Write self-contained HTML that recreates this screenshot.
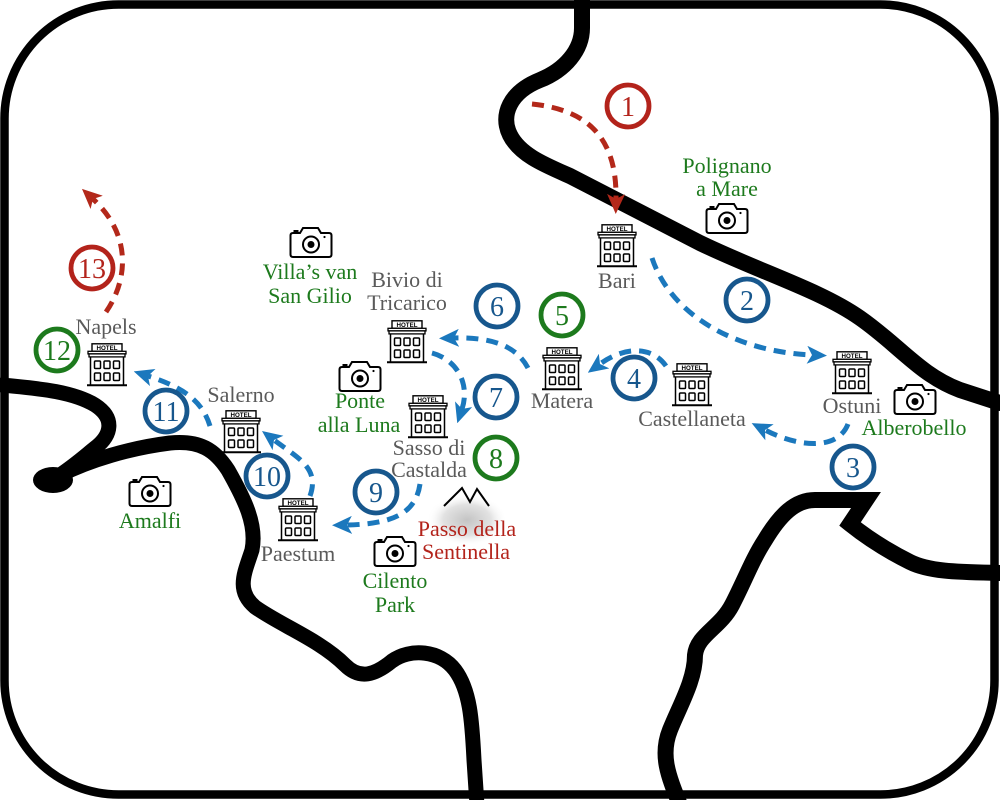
<!DOCTYPE html>
<html>
<head>
<meta charset="utf-8">
<style>
html,body{margin:0;padding:0;background:#fff;}
svg{display:block;}
.lbl{font-family:"Liberation Serif",serif;font-size:22px;text-anchor:middle;}
.g{fill:#5a5a5a;}
.gr{fill:#1d7a1d;}
.rd{fill:#b3231b;}
.num{font-family:"Liberation Serif",serif;font-size:28px;text-anchor:middle;}
.ht{font-family:"Liberation Sans",sans-serif;font-size:6.2px;font-weight:bold;text-anchor:middle;fill:#000;}
</style>
</head>
<body>
<svg width="1000" height="800" viewBox="0 0 1000 800" xmlns="http://www.w3.org/2000/svg">
<defs>
  <symbol id="hotel" viewBox="0 0 40 44" width="40" height="44" overflow="visible">
    <rect x="5" y="0.8" width="30" height="7.5" fill="#fff" stroke="#000" stroke-width="1.4"/>
    <rect x="1" y="8.3" width="38" height="2.6" fill="#fff" stroke="#000" stroke-width="1.3"/>
    <rect x="2" y="10.9" width="36" height="3" fill="#fff" stroke="#000" stroke-width="1.3"/>
    <path d="M3.5 13.9 V42 M36.5 13.9 V42" stroke="#000" stroke-width="1.5" fill="none"/>
    <path d="M0 42.3 H40" stroke="#000" stroke-width="2" fill="none"/>
    <g fill="none" stroke="#000" stroke-width="1.5">
      <rect x="7.5" y="18" width="6" height="7.5" rx="1"/>
      <rect x="17" y="18" width="6" height="7.5" rx="1"/>
      <rect x="26.5" y="18" width="6" height="7.5" rx="1"/>
      <rect x="7.5" y="30" width="6" height="7.5" rx="1"/>
      <rect x="17" y="30" width="6" height="7.5" rx="1"/>
      <rect x="26.5" y="30" width="6" height="7.5" rx="1"/>
    </g>
  </symbol>
  <symbol id="cam" viewBox="0 0 44 32" width="44" height="32" overflow="visible">
    <path d="M4,7 H11 L14,2 H29 L32,7 H40 Q42.5,7 42.5,9.5 V28.5 Q42.5,31 40,31 H4 Q1.5,31 1.5,28.5 V9.5 Q1.5,7 4,7 Z" fill="#fff" stroke="#000" stroke-width="2"/>
    <rect x="4.5" y="4" width="5" height="3" fill="#000"/>
    <circle cx="22" cy="18.5" r="8" fill="none" stroke="#000" stroke-width="2"/>
    <circle cx="22" cy="18.5" r="3.5" fill="#000"/>
    <circle cx="35.5" cy="11" r="1.1" fill="#000"/>
  </symbol>
  <marker id="ab" viewBox="0 0 20 18" refX="5" refY="9" markerWidth="20" markerHeight="18" markerUnits="userSpaceOnUse" orient="auto">
    <path d="M0,0 L20,9 L0,18 L5,9 Z" fill="#1b78bd"/>
  </marker>
  <marker id="ar" viewBox="0 0 20 18" refX="5" refY="9" markerWidth="20" markerHeight="18" markerUnits="userSpaceOnUse" orient="auto">
    <path d="M0,0 L20,9 L0,18 L5,9 Z" fill="#b3281a"/>
  </marker>
  <radialGradient id="sh" cx="0.5" cy="0.5" r="0.5">
    <stop offset="0" stop-color="#c4c4c4"/>
    <stop offset="0.6" stop-color="#e2e2e2"/>
    <stop offset="1" stop-color="#ffffff" stop-opacity="0"/>
  </radialGradient>
</defs>

<rect x="0" y="0" width="1000" height="800" fill="#fff"/>

<!-- coastlines -->
<g fill="none" stroke="#000" stroke-linecap="round" stroke-linejoin="round">
  <path stroke-width="16" d="M582,-5 L582,28 C582,50 565,70 540,80 C510,92 500,115 510,135 C520,155 545,165 570,176 L700,243 C760,272 820,290 860,318 C900,346 920,375 960,390 L1000,403"/>
  <path stroke-width="15" d="M2,385 C30,388 70,390 95,405 C115,418 112,435 95,448 C85,456 75,465 60,475"/>
  <path stroke-width="15" d="M60,475 C90,460 130,448 170,443 C200,440 215,450 228,470 C245,500 257,525 252,550 C245,572 235,590 255,607 C280,625 320,640 345,665 C360,680 375,675 392,661 C410,648 440,650 455,670 C470,690 472,720 474,760 L477,805"/>
  <path stroke-width="16" stroke-linejoin="miter" stroke-miterlimit="6" d="M680,805 C668,775 660,755 670,730 C680,705 695,680 695,655 C697,635 720,628 732,605 C745,580 752,560 765,540 C780,515 795,500 815,500 L866,500 L850,524 C870,540 890,552 910,562 C930,572 960,572 1000,573"/>
</g>
<ellipse cx="53" cy="480" rx="20" ry="13" fill="#000"/>

<!-- frame -->
<rect x="4.5" y="4.5" width="990" height="790" rx="114" ry="114" fill="none" stroke="#000" stroke-width="8.5"/>

<!-- mountain shadow -->
<ellipse cx="467" cy="520" rx="40" ry="26" fill="url(#sh)"/>

<!-- arrows -->
<g fill="none" stroke-width="5" stroke-dasharray="12 8">
  <path stroke="#b3281a" marker-end="url(#ar)" d="M532,104 C590,110 617,140 616,199"/>
  <path stroke="#b3281a" marker-end="url(#ar)" d="M106,312 C128,280 132,235 93,199"/>
  <path stroke="#1b78bd" marker-end="url(#ab)" d="M652,258 C672,318 740,352 812,355"/>
  <path stroke="#1b78bd" marker-end="url(#ab)" d="M848,424 C838,450 800,448 765,430"/>
  <path stroke="#1b78bd" marker-end="url(#ab)" d="M666,366 C652,346 625,346 600,364"/>
  <path stroke="#1b78bd" marker-end="url(#ab)" d="M528,368 C516,345 490,337 454,338"/>
  <path stroke="#1b78bd" marker-end="url(#ab)" d="M432,353 C458,360 470,385 462,409"/>
  <path stroke="#1b78bd" marker-end="url(#ab)" d="M420,484 C416,512 395,524 347,525"/>
  <path stroke="#1b78bd" marker-end="url(#ab)" d="M310,496 C320,468 298,458 274,440"/>
  <path stroke="#1b78bd" marker-end="url(#ab)" d="M210,426 C202,400 182,387 148,376"/>
</g>

<!-- hotels -->
<use href="#hotel" x="597" y="224"/><text class="ht" x="617" y="230.8">HOTEL</text>
<use href="#hotel" x="832" y="351"/><text class="ht" x="852" y="357.8">HOTEL</text>
<use href="#hotel" x="672" y="363"/><text class="ht" x="692" y="369.8">HOTEL</text>
<use href="#hotel" x="542" y="347"/><text class="ht" x="562" y="353.8">HOTEL</text>
<use href="#hotel" x="387" y="320"/><text class="ht" x="407" y="326.8">HOTEL</text>
<use href="#hotel" x="408" y="395"/><text class="ht" x="428" y="401.8">HOTEL</text>
<use href="#hotel" x="278" y="498"/><text class="ht" x="298" y="504.8">HOTEL</text>
<use href="#hotel" x="221" y="410"/><text class="ht" x="241" y="416.8">HOTEL</text>
<use href="#hotel" x="87" y="343"/><text class="ht" x="107" y="349.8">HOTEL</text>

<!-- cameras -->
<use href="#cam" x="705" y="202"/>
<use href="#cam" x="289" y="226"/>
<use href="#cam" x="338" y="360"/>
<use href="#cam" x="893" y="383"/>
<use href="#cam" x="128" y="475"/>
<use href="#cam" x="373" y="535"/>

<!-- mountain -->
<path d="M444,506 L462,488 L470,502 L477,489 L489,506" fill="none" stroke="#000" stroke-width="2"/>

<!-- labels -->
<text class="lbl gr" x="727" y="173">Polignano</text>
<text class="lbl gr" x="727" y="196">a Mare</text>
<text class="lbl g" x="617" y="288">Bari</text>
<text class="lbl g" x="852" y="413">Ostuni</text>
<text class="lbl gr" x="914" y="435">Alberobello</text>
<text class="lbl g" x="692" y="426">Castellaneta</text>
<text class="lbl g" x="562" y="408">Matera</text>
<text class="lbl g" x="407" y="287">Bivio di</text>
<text class="lbl g" x="407" y="310">Tricarico</text>
<text class="lbl gr" x="310" y="279">Villa’s van</text>
<text class="lbl gr" x="310" y="303">San Gilio</text>
<text class="lbl gr" x="360" y="408">Ponte</text>
<text class="lbl gr" x="359" y="432">alla Luna</text>
<text class="lbl g" x="429" y="455">Sasso di</text>
<text class="lbl g" x="429" y="477">Castalda</text>
<text class="lbl rd" x="467" y="536">Passo della</text>
<text class="lbl rd" x="466" y="559">Sentinella</text>
<text class="lbl gr" x="395" y="588">Cilento</text>
<text class="lbl gr" x="395" y="612">Park</text>
<text class="lbl g" x="298" y="561">Paestum</text>
<text class="lbl gr" x="150" y="528">Amalfi</text>
<text class="lbl g" x="241" y="402">Salerno</text>
<text class="lbl g" x="106" y="334">Napels</text>

<!-- numbered circles -->
<g fill="#fff" stroke-width="4.8">
  <circle cx="628" cy="106" r="21" stroke="#b3231b"/>
  <circle cx="747" cy="300" r="21" stroke="#17578d"/>
  <circle cx="853" cy="467" r="21" stroke="#17578d"/>
  <circle cx="634" cy="378" r="21" stroke="#17578d"/>
  <circle cx="562" cy="315" r="21" stroke="#1d7a1d"/>
  <circle cx="497" cy="306" r="21" stroke="#17578d"/>
  <circle cx="496" cy="397" r="21" stroke="#17578d"/>
  <circle cx="496" cy="458" r="21" stroke="#1d7a1d"/>
  <circle cx="376" cy="492" r="21" stroke="#17578d"/>
  <circle cx="267" cy="476" r="21" stroke="#17578d"/>
  <circle cx="166" cy="411" r="21" stroke="#17578d"/>
  <circle cx="57" cy="350" r="21" stroke="#1d7a1d"/>
  <circle cx="92" cy="268" r="21" stroke="#b3231b"/>
</g>
<g class="num">
  <text x="628" y="116" fill="#b3231b">1</text>
  <text x="747" y="310" fill="#17578d">2</text>
  <text x="853" y="477" fill="#17578d">3</text>
  <text x="634" y="388" fill="#17578d">4</text>
  <text x="562" y="325" fill="#1d7a1d">5</text>
  <text x="497" y="316" fill="#17578d">6</text>
  <text x="496" y="407" fill="#17578d">7</text>
  <text x="496" y="468" fill="#1d7a1d">8</text>
  <text x="376" y="502" fill="#17578d">9</text>
  <text x="267" y="486" fill="#17578d">10</text>
  <text x="166" y="421" fill="#17578d">11</text>
  <text x="57" y="360" fill="#1d7a1d">12</text>
  <text x="92" y="278" fill="#b3231b">13</text>
</g>
</svg>
</body>
</html>
